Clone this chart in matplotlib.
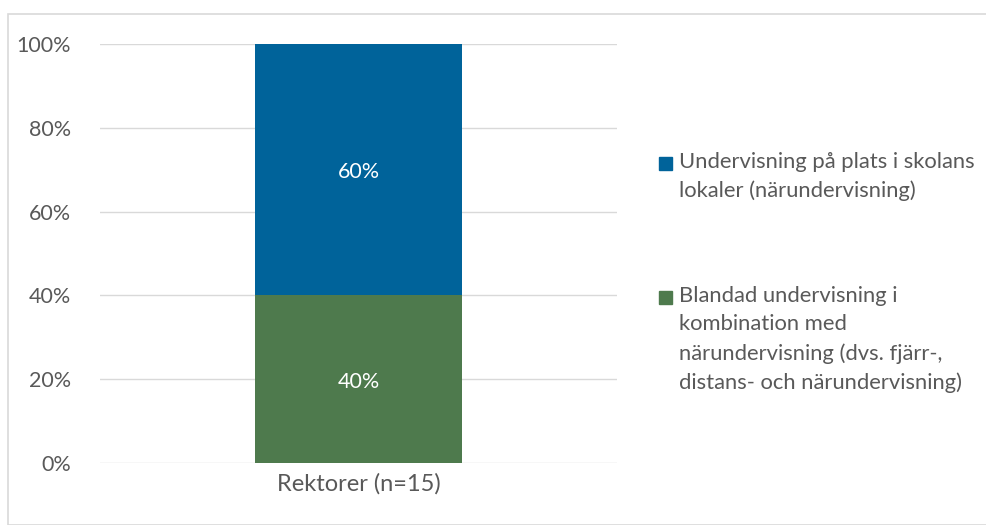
import matplotlib.pyplot as plt
from matplotlib.patches import Rectangle

plt.rcParams['font.family'] = ['Lato', 'DejaVu Sans']

category = 'Rektorer (n=15)'
series_names = ['Blandad undervisning i\nkombination med\nnärundervisning (dvs. fjärr-,\ndistans- och närundervisning)',
                'Undervisning på plats i skolans\nlokaler (närundervisning)']
values = [40, 60]
colors = ['#4E7A4D', '#00639A']
text_grey = '#595959'

W, H = 987, 525
fig = plt.figure(figsize=(W / 100, H / 100), dpi=100)
ax = fig.add_axes([100 / W, 1 - 463 / H, 517 / W, 419 / H])

bottom = 0
for v, c in zip(values, colors):
    ax.bar(0, v, bottom=bottom, width=0.4, color=c, zorder=3)
    ax.text(0, bottom + v / 2 - 0.6, '{}%'.format(v), ha='center', va='center',
            color='white', fontsize=15.5, zorder=4)
    bottom += v

ax.set_xlim(-0.5, 0.5)
ax.set_ylim(0, 100)
ax.set_yticks(range(0, 101, 20))
ax.set_yticklabels(['{}%'.format(t) for t in range(0, 101, 20)])
ax.set_xticks([0])
ax.set_xticklabels([category])
ax.grid(axis='y', color='#D9D9D9', linewidth=1, zorder=0)
for s in ax.spines.values():
    s.set_visible(False)
ax.tick_params(length=0, colors=text_grey)
ax.tick_params(axis='y', labelsize=15.5, pad=21)
ax.tick_params(axis='x', labelsize=17, pad=7)

# legend drawn by hand, top entry first
legend_y = [163, 297]
for i, (name, c) in enumerate(zip(series_names[::-1], colors[::-1])):
    y = legend_y[i]
    fig.patches.append(Rectangle((659 / W, 1 - (y + 7) / H), 13 / W, 13 / H,
                                 transform=fig.transFigure, color=c))
    fig.text(679 / W, 1 - (y - 11) / H, name, ha='left', va='top', fontsize=15.8,
             color=text_grey, linespacing=1.52)

# chart border
fig.patches.append(Rectangle((8 / W, 0), 1.2, 1 - 14 / H, transform=fig.transFigure,
                             fill=False, edgecolor='#D9D9D9', linewidth=1.2))

fig.savefig('out.png', dpi=100)
